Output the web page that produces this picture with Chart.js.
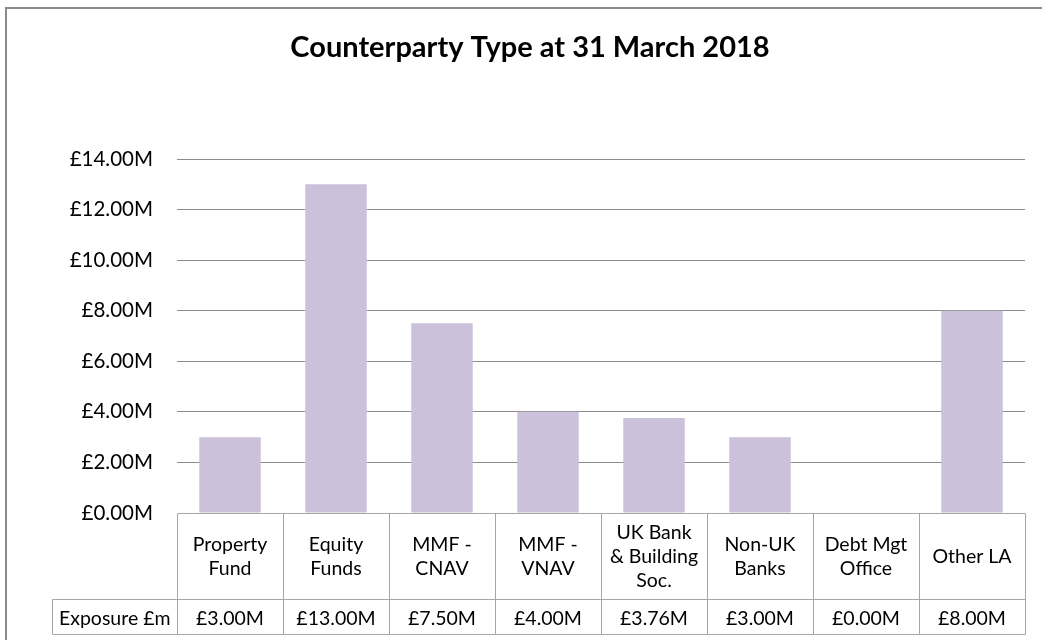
<!DOCTYPE html>
<html>
<head>
<meta charset="utf-8">
<title>Counterparty Type at 31 March 2018</title>
<script src="https://cdn.jsdelivr.net/npm/chart.js@4/dist/chart.umd.min.js"></script>
<style>
  html, body { margin: 0; padding: 0; background: #fff; }
  #wrap { width: 1042px; height: 640px; position: relative; }
</style>
</head>
<body>
<div id="wrap"><canvas id="chart"></canvas></div>
<script>
// Counterparty types (multi-line labels as shown in the data table)
const categories = [
    ['Property', 'Fund'],
    ['Equity', 'Funds'],
    ['MMF -', 'CNAV'],
    ['MMF -', 'VNAV'],
    ['UK Bank', '& Building', 'Soc.'],
    ['Non-UK', 'Banks'],
    ['Debt Mgt', 'Office'],
    ['Other LA']
];

// Exposure in £ millions
const exposure = [3.00, 13.00, 7.50, 4.00, 3.76, 3.00, 0.00, 8.00];

const seriesName = 'Exposure £m';
const yMax = 14;
const yStep = 2;

const FONT = 'Lato, "Open Sans", sans-serif';

function money(v) {
    return '£' + v.toFixed(2) + 'M';
}

// Frame around the whole chart + white background
const framePlugin = {
    id: 'frame',
    beforeDraw(chart) {
        const ctx = chart.ctx;
        ctx.save();
        ctx.fillStyle = '#fff';
        ctx.fillRect(0, 0, chart.width, chart.height);
        ctx.strokeStyle = '#8a8a8a';
        ctx.lineWidth = 2;
        ctx.beginPath();
        ctx.moveTo(6, chart.height);
        ctx.lineTo(6, 8);
        ctx.lineTo(chart.width, 8);
        ctx.stroke();
        ctx.restore();
    }
};

// Data table under the plot: category row + value row
const tablePlugin = {
    id: 'dataTable',
    afterDraw(chart) {
        const ctx = chart.ctx;
        const x = chart.scales.x;
        const area = chart.chartArea;
        const step = x.getPixelForValue(1) - x.getPixelForValue(0);
        const top = Math.round(area.bottom) + 0.5;
        const mid = top + 86;
        const bot = top + 121;
        const labelLeft = 52.5;

        ctx.save();
        ctx.strokeStyle = '#a6a6a6';
        ctx.lineWidth = 1;
        ctx.beginPath();
        // horizontal rules
        ctx.moveTo(Math.round(area.left) + 0.5, top);
        ctx.lineTo(Math.round(area.right) + 0.5, top);
        ctx.moveTo(labelLeft, mid);
        ctx.lineTo(Math.round(area.right) + 0.5, mid);
        ctx.moveTo(labelLeft, bot);
        ctx.lineTo(Math.round(area.right) + 0.5, bot);
        // left edge of the series label cell
        ctx.moveTo(labelLeft, mid);
        ctx.lineTo(labelLeft, bot);
        // column separators
        for (let i = 0; i <= categories.length; i++) {
            const px = Math.round(x.getPixelForValue(i) - step / 2) + 0.5;
            ctx.moveTo(px, top);
            ctx.lineTo(px, bot);
        }
        ctx.stroke();

        ctx.fillStyle = '#000';
        ctx.font = '19.5px ' + FONT;
        ctx.textAlign = 'center';
        ctx.textBaseline = 'middle';
        const lh = 24;
        categories.forEach((lines, i) => {
            const cx = x.getPixelForValue(i);
            const cy = (top + mid) / 2;
            const y0 = cy - (lines.length - 1) * lh / 2;
            lines.forEach((ln, k) => ctx.fillText(ln, cx, y0 + k * lh));
        });
        const vy = (mid + bot) / 2 + 2;
        exposure.forEach((v, i) => {
            ctx.fillText(money(v), x.getPixelForValue(i), vy);
        });
        ctx.fillText(seriesName, (labelLeft + area.left) / 2, vy);
        ctx.restore();
    }
};

new Chart(document.getElementById('chart').getContext('2d'), {
    type: 'bar',
    data: {
        labels: categories,
        datasets: [{
            label: seriesName,
            data: exposure,
            backgroundColor: '#CCC1DA',
            borderWidth: 0,
            barPercentage: 0.58,
            categoryPercentage: 1
        }]
    },
    options: {
        responsive: true,
        maintainAspectRatio: false,
        animation: false,
        layout: {
            padding: { top: 0, left: 35, right: 17, bottom: 119 }
        },
        plugins: {
            legend: { display: false },
            tooltip: { enabled: false },
            title: {
                display: true,
                text: 'Counterparty Type at 31 March 2018',
                color: '#000',
                font: { family: FONT, size: 29, weight: 'bold' },
                padding: { top: 30.6, bottom: 93.6 }
            }
        },
        scales: {
            x: {
                ticks: { display: false },
                grid: { display: false },
                border: { display: false }
            },
            y: {
                min: 0,
                max: yMax,
                ticks: {
                    stepSize: yStep,
                    padding: 24,
                    color: '#000',
                    font: { family: FONT, size: 20.5 },
                    callback: v => money(v)
                },
                grid: {
                    color: ctx => ctx.tick.value === 0 ? 'rgba(0,0,0,0)' : '#8c8c8c',
                    drawTicks: false,
                    lineWidth: 1
                },
                border: { display: false },
                afterFit(scale) {
                    scale.width = 142;
                }
            }
        }
    },
    plugins: [framePlugin, tablePlugin]
});
</script>
</body>
</html>
